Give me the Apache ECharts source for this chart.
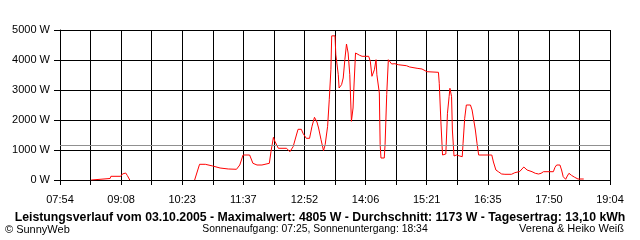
<!DOCTYPE html>
<html>
<head>
<meta charset="utf-8">
<script src="https://cdn.jsdelivr.net/npm/echarts@6/dist/echarts.min.js"></script>
<style>
html,body{margin:0;padding:0;background:#fff;}
#c{width:640px;height:240px;}
</style>
</head>
<body>
<div id="c"></div>
<script>
// Time of each reading (HH:MM) and power in W (null = no data)
const times = ['08:32','08:33','08:55','08:56','09:08','09:10','09:14','09:16','09:19','09:30',
'10:38','10:44','10:51','10:52','11:00','11:02','11:09','11:10','11:19','11:29','11:33','11:37','11:45','11:49','11:54','12:00','12:02','12:09','12:11','12:14','12:16','12:20','12:30','12:34','12:38','12:42','12:44','12:48','12:50','12:54','12:58',
'13:01','13:04','13:07','13:09','13:12','13:15','13:17','13:20','13:22','13:24','13:25','13:29','13:30','13:33','13:34','13:37','13:39','13:41','13:43','13:45','13:47','13:48','13:49','13:51','13:52','13:54','13:55','13:59',
'14:02','14:10','14:12','14:14','14:17','14:19','14:20','14:23','14:24','14:25','14:29','14:30','14:32','14:34','14:36','14:38','14:42','14:46','14:56',
'15:00','15:09','15:15','15:21','15:23','15:35','15:36','15:38','15:40','15:44','15:46','15:48','15:49','15:51','15:52','15:54','15:57',
'16:01','16:04','16:05','16:07','16:09','16:14','16:16','16:18','16:20','16:22','16:24','16:40','16:42','16:45','16:48','16:52','16:56',
'17:04','17:08','17:14','17:16','17:19','17:23','17:29','17:33','17:37','17:40','17:43','17:55','17:57','17:59',
'18:03','18:05','18:07','18:10','18:12','18:14','18:17','18:21','18:25','18:32'];
const power = [0,50,50,123,123,200,233,150,0,null,
0,523,523,477,467,410,400,377,367,357,500,833,833,557,500,500,557,557,943,1423,1277,1057,1057,943,1110,1500,1690,1690,1557,1390,1390,
1790,2090,1933,1733,1343,977,1177,1790,2677,3677,4805,4805,4177,3510,3067,3177,3400,4010,4533,4233,3510,2733,1957,2400,3067,4233,4257,4157,
4123,4123,3957,3457,3677,4010,3510,2900,1177,733,733,1177,2843,4010,3957,3867,3877,3843,3810,
3767,3723,3700,3610,3557,3590,3223,1943,833,867,2223,2777,3057,2777,1667,800,833,
800,777,1223,2057,2500,2500,2333,2000,1667,1223,833,833,600,333,277,200,190,
190,243,283,317,433,333,277,223,200,223,277,277,423,500,
500,333,110,23,133,223,157,90,33,33];
const average = 1173;
const xTickLabels = ['07:54','09:08','10:23','11:37','12:52','14:06','15:21','16:35','17:50','19:04'];
const yMax = 5000, yStep = 1000;
const titleText = 'Leistungsverlauf vom 03.10.2005 - Maximalwert: 4805 W - Durchschnitt: 1173 W - Tagesertrag: 13,10 kWh';
const leftNote = '\u00A9 SunnyWeb';
const centerNote = 'Sonnenaufgang: 07:25, Sonnenuntergang: 18:34';
const rightNote = 'Verena & Heiko Weiß';

function toMin(s){const p=s.split(':');return (+p[0])*60+(+p[1]);}
const startMin = toMin(xTickLabels[0]);
const endMin = toMin(xTickLabels[xTickLabels.length-1]);
const nSteps = (xTickLabels.length-1)*2;
const step = (endMin-startMin)/nSteps;
const data = times.map((t,i)=>[(toMin(t)-startMin)/step, power[i]===null?'-':power[i]]);

const font = "'Liberation Sans', Arial, sans-serif";
const chart = echarts.init(document.getElementById('c'), null, {renderer:'canvas'});
chart.setOption({
  backgroundColor:'#fff',
  animation:false,
  grid:{left:60,right:30,top:30,bottom:60,containLabel:false},
  xAxis:{type:'value',min:0,max:nSteps,interval:1,
    axisLine:{show:true,lineStyle:{color:'#000',width:1}},
    axisTick:{show:true,length:5,lineStyle:{color:'#000'}},
    splitLine:{show:true,lineStyle:{color:'#000',width:1}},
    axisLabel:{color:'#000',fontFamily:font,fontSize:11,margin:14,
      formatter:(v)=>{const r=Math.round(v);return r%2===0?xTickLabels[r/2]:'';}}
  },
  yAxis:{type:'value',min:0,max:yMax,interval:yStep,
    axisLine:{show:true,lineStyle:{color:'#000',width:1}},
    axisTick:{show:true,length:6,lineStyle:{color:'#000'}},
    splitLine:{show:true,lineStyle:{color:'#000',width:1}},
    axisLabel:{color:'#000',fontFamily:font,fontSize:11,margin:10,formatter:(v)=>String(Math.round(v))+' W'}
  },
  series:[{type:'line',data:data,showSymbol:false,symbol:'none',connectNulls:false,
    lineStyle:{color:'#ff0000',width:1},
    markLine:{silent:true,symbol:['none','none'],label:{show:false},
      lineStyle:{color:'#909090',width:1,type:'solid'},data:[{yAxis:average}]}
  }],
  graphic:[
    {type:'text',x:320,y:218,style:{text:titleText,font:"bold 12.3px "+font,fill:'#000',align:'center',verticalAlign:'middle'}},
    {type:'text',left:5,top:224,style:{text:leftNote,font:"11px "+font,fill:'#000'}},
    {type:'text',x:315,y:229,style:{text:centerNote,font:"10.4px "+font,fill:'#000',align:'center',verticalAlign:'middle'}},
    {type:'text',x:624,y:229,style:{text:rightNote,font:"11px "+font,fill:'#000',align:'right',verticalAlign:'middle'}}
  ]
});
</script>
</body>
</html>
